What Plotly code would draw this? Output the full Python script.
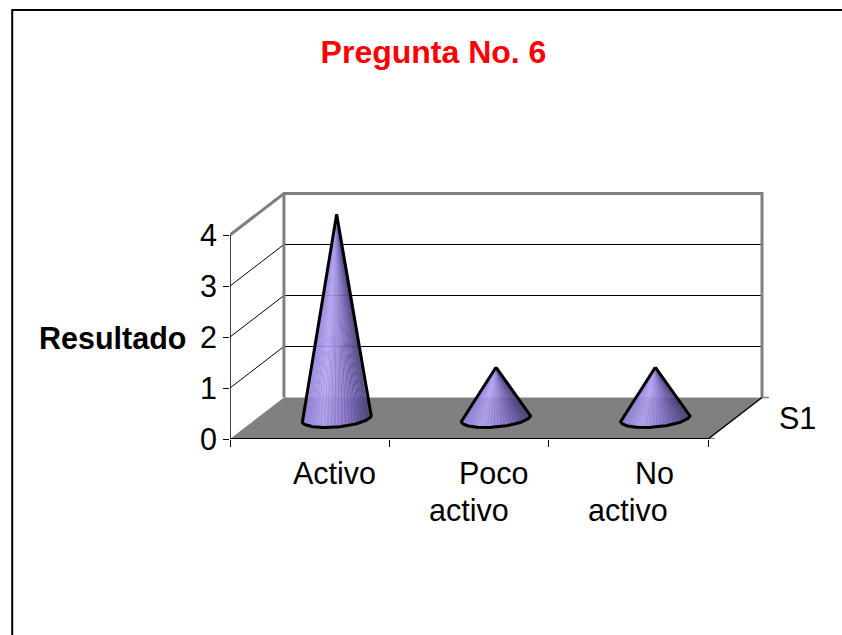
import math
import plotly.graph_objects as go

categories = ["Activo", "Poco activo", "No activo"]
values = [4, 1, 1]
y_ticks = [0, 1, 2, 3, 4]
series_name = "S1"

# Pixel layout of the plot area (slightly larger than the oblique box, so its frame is not clipped)
L, R, T, B = 229.5, 772.0, 186.0, 439.0
UX = (708.0 - L) / len(categories)   # px per category
UY = (B - 235.0) / max(y_ticks)      # px per value unit
DX, DY = 54.0 / UX, 41.5 / UY        # depth offset in data units

FONT = "Arial, Liberation Sans, sans-serif"
GRAY = "#808080"
SIZE = 30.5

fig = go.Figure()


def line(xs, ys, color="black", width=1):
    fig.add_trace(go.Scatter(x=xs, y=ys, mode="lines", hoverinfo="skip", cliponaxis=False,
                             line=dict(color=color, width=width), showlegend=False))


def poly(xs, ys, color, lc=None, lw=0):
    fig.add_trace(go.Scatter(x=xs, y=ys, mode="lines", fill="toself", fillcolor=color,
                             hoverinfo="skip", cliponaxis=False,
                             line=dict(color=lc or color, width=lw), showlegend=False))


n = len(categories)
top = max(y_ticks)

# floor
poly([0, n, n + DX, DX, 0], [0, 0, DY, DY, 0], GRAY)
# gridlines on back + side wall
for v in y_ticks[1:-1]:
    line([0, DX, n + DX], [v, v + DY, v + DY])
# back wall frame
line([0, DX, n + DX, n + DX], [top, top + DY, top + DY, DY], GRAY, 3)
line([DX, DX], [DY, top + DY], GRAY, 3)
# front edges
line([0, 0], [0, top], "black", 1.5)
line([0, n], [0, 0], "black", 2)
line([n, n + DX], [0, DY], "black", 1.5)
line([n + DX, n + DX + 7 / UX], [DY, DY], GRAY, 1.5)
line([n, n + 7 / UX], [0, 0], "black", 1)


def shade(u, k_strip):
    # u: 0 left edge .. 1 right edge of the cone; alternating strips mimic the banded render
    stops = [(0.0, (148, 130, 218)), (0.3, (178, 162, 238)), (0.55, (150, 130, 212)),
             (0.8, (108, 92, 168)), (1.0, (72, 62, 118))]
    d = 9 if k_strip % 2 else -9
    for (a, ca), (b, cb) in zip(stops, stops[1:]):
        if u <= b:
            k = (u - a) / (b - a)
            return "rgb(%d,%d,%d)" % tuple(round(p + (q - p) * k) + d for p, q in zip(ca, cb))
    return "rgb(72,62,118)"


A_X, A_Y = 34.6 / UX, 2.35 / UY    # ellipse major semi-axis, data units
B_X, B_Y = -2.5 / UX, -9.0 / UY    # ellipse minor semi-axis, data units
CY = DY / 2


def rim(cx, t):
    return (cx + math.cos(t) * A_X + math.sin(t) * B_X,
            CY + math.cos(t) * A_Y + math.sin(t) * B_Y)


for i, v in enumerate(values):
    cx = i + 0.5 + DX / 2
    apex = (cx, CY + v)
    N = 60
    ts = [math.pi - math.pi * k / N for k in range(N + 1)]
    pts = [rim(cx, t) for t in ts]
    for k in range(N):
        u = (pts[k][0] + pts[k + 1][0] - 2 * (cx - A_X)) / (4 * A_X)
        c = shade(u, k)
        poly([apex[0], pts[k][0], pts[k + 1][0], apex[0]],
             [apex[1], pts[k][1], pts[k + 1][1], apex[1]], c, c, 0.3)
    line([apex[0]] + [p[0] for p in pts] + [apex[0]],
         [apex[1]] + [p[1] for p in pts] + [apex[1]], "black", 3)

fig.update_xaxes(range=[0, (R - L) / UX], tickmode="array", tickvals=list(range(n + 1)),
                 ticktext=[""] * (n + 1), ticks="outside", ticklen=7, tickwidth=1,
                 tickcolor="black", showgrid=False, zeroline=False, showline=False)
fig.update_yaxes(range=[0, (B - T) / UY], tickmode="array", tickvals=y_ticks,
                 ticks="outside", ticklen=6, tickwidth=1, tickcolor="black",
                 showgrid=False, zeroline=False, showline=False,
                 tickfont=dict(family=FONT, size=SIZE, color="black"))

anns = [
    (334.5, 473, "Activo"), (494, 473, "Poco"), (469, 510, "activo"),
    (654, 473, "No"), (628, 510, "activo"), (798, 418, series_name),
]
annotations = [dict(xref="paper", yref="paper",
                    x=(px - L) / (R - L), y=(B - py) / (B - T), text=t, showarrow=False,
                    xanchor="center", yanchor="middle",
                    font=dict(family=FONT, size=SIZE, color="black")) for px, py, t in anns]
annotations.append(dict(xref="paper", yref="paper", x=(111.5 - L) / (R - L), y=(B - 338) / (B - T),
                        text="<b>Resultado</b>", showarrow=False, xanchor="center", yanchor="middle",
                        font=dict(family=FONT, size=SIZE, color="black")))

fig.update_layout(
    width=842, height=635, autosize=False,
    margin=dict(l=L, r=842 - R, t=T, b=635 - B, pad=0),
    paper_bgcolor="white", plot_bgcolor="white", showlegend=False,
    title=dict(text="<b>Pregunta No. 6</b>", x=433.5 / 842, xanchor="center",
               y=1 - 52 / 635, yanchor="middle",
               font=dict(family=FONT, size=32, color="#ff0000")),
    annotations=annotations,
    shapes=[dict(type="rect", xref="paper", yref="paper", layer="below",
                 x0=(11.5 - L) / (R - L), x1=(900 - L) / (R - L),
                 y0=(B - 700) / (B - T), y1=(B - 10) / (B - T),
                 line=dict(color="black", width=2))],
)

fig.write_html("out.html", config=dict(displayModeBar=False),
               post_script="document.body.style.margin='0';document.body.style.overflow='hidden';")
